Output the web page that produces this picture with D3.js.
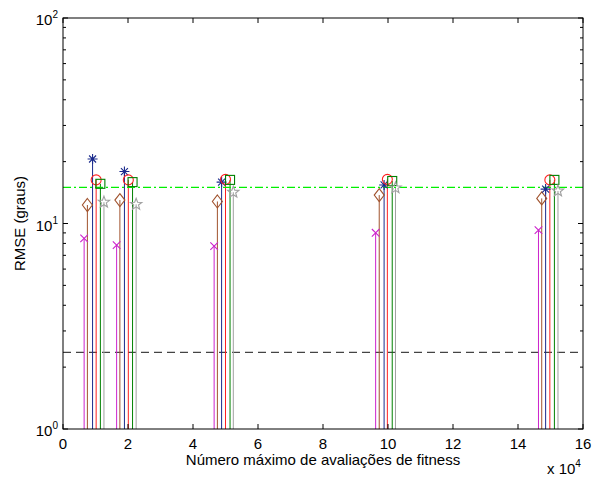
<!DOCTYPE html>
<html>
<head>
<meta charset="utf-8">
<script src="https://cdn.jsdelivr.net/npm/d3@7"></script>
<style>
  body { margin: 0; background: #fff; }
  svg text { font-family: "Liberation Sans", Arial, sans-serif; }
</style>
</head>
<body>
<div id="chart"></div>
<script>
const width = 599;
const height = 477;
const margin = { top: 18, right: 16, bottom: 48, left: 63 };

// x positions are in units of 10^4 evaluations
const xMagenta = [0.65, 1.65, 4.65, 9.62, 14.63];
const xBrown   = [0.75, 1.75, 4.75, 9.73, 14.73];
const xBlue    = [0.91, 1.89, 4.88, 9.88, 14.85];
const xRed     = [1.02, 2.01, 5.00, 9.98, 14.98];
const xGreen   = [1.15, 2.14, 5.14, 10.13, 15.12];
const xGray    = [1.26, 2.25, 5.24, 10.23, 15.23];

const yMagenta = [8.46, 7.85, 7.76, 9.01, 9.29];
const yBrown   = [12.3, 13.0, 12.8, 13.75, 13.25];
const yBlue    = [20.6, 17.9, 15.9, 15.4, 14.7];
const yRed     = [16.3, 16.3, 16.4, 16.4, 16.3];
const yGreen   = [15.6, 15.9, 16.3, 16.1, 16.3];
const yGray    = [12.7, 12.4, 14.2, 14.9, 14.4];

const refGreen = 15.0;
const refBlack = 2.36;

const xTicks = [0, 2, 4, 6, 8, 10, 12, 14, 16];
const yMajor = [1, 10, 100];
const yLabels = ['0', '1', '2'];

const series = [
  { xs: xMagenta, ys: yMagenta, color: '#cc22cc', marker: 'x' },
  { xs: xBrown,   ys: yBrown,   color: '#a0522d', marker: 'diamond' },
  { xs: xBlue,    ys: yBlue,    color: '#1a2a8c', marker: 'asterisk' },
  { xs: xRed,     ys: yRed,     color: '#ff2020', marker: 'circle' },
  { xs: xGreen,   ys: yGreen,   color: '#008000', marker: 'square' },
  { xs: xGray,    ys: yGray,    color: '#a0a0a0', marker: 'star' }
];

const svg = d3.select('#chart').append('svg')
  .attr('width', width).attr('height', height);

const iw = width - margin.left - margin.right;
const ih = height - margin.top - margin.bottom;

const x = d3.scaleLinear().domain([0, 16]).range([0, iw]);
const y = d3.scaleLog().domain([1, 100]).range([ih, 0]);

const g = svg.append('g').attr('transform', `translate(${margin.left},${margin.top})`);

// reference lines
g.append('line')
  .attr('x1', 0).attr('x2', iw)
  .attr('y1', y(refBlack)).attr('y2', y(refBlack))
  .attr('stroke', '#444').attr('stroke-width', 1.2)
  .attr('stroke-dasharray', '8,5');

// stems
series.forEach(s => {
  s.xs.forEach((xv, i) => {
    g.append('line')
      .attr('x1', x(xv)).attr('x2', x(xv))
      .attr('y1', y(1)).attr('y2', y(s.ys[i]))
      .attr('stroke', s.color).attr('stroke-width', 1);
  });
});

g.append('line')
  .attr('x1', 0).attr('x2', iw)
  .attr('y1', y(refGreen)).attr('y2', y(refGreen))
  .attr('stroke', '#00f000').attr('stroke-width', 1.2)
  .attr('stroke-dasharray', '8,3,2,3');

// markers
function drawMarker(sel, type, color) {
  const st = { stroke: color, fill: 'none', 'stroke-width': 1.1 };
  const add = (tag) => { const e = sel.append(tag); Object.entries(st).forEach(([k, v]) => e.attr(k, v)); return e; };
  if (type === 'circle') {
    add('circle').attr('r', 5);
  } else if (type === 'square') {
    add('rect').attr('x', -4.5).attr('y', -4.5).attr('width', 9).attr('height', 9);
  } else if (type === 'diamond') {
    add('path').attr('d', 'M0,-6.5L5,0L0,6.5L-5,0Z');
  } else if (type === 'x') {
    add('path').attr('d', 'M-3.8,-3.8L3.8,3.8M-3.8,3.8L3.8,-3.8');
  } else if (type === 'asterisk') {
    add('path').attr('d', 'M0,-5V5M-5,0H5M-3.5,-3.5L3.5,3.5M-3.5,3.5L3.5,-3.5');
  } else if (type === 'star') {
    const pts = d3.range(10).map(k => {
      const r = k % 2 === 0 ? 6 : 2.5;
      const a = -Math.PI / 2 + k * Math.PI / 5;
      return [r * Math.cos(a), r * Math.sin(a)];
    });
    add('path').attr('d', 'M' + pts.map(p => p.join(',')).join('L') + 'Z');
  }
}

series.forEach(s => {
  s.xs.forEach((xv, i) => {
    const m = g.append('g').attr('transform', `translate(${x(xv)},${y(s.ys[i])})`);
    drawMarker(m, s.marker, s.color);
  });
});

// box
g.append('rect').attr('width', iw).attr('height', ih)
  .attr('fill', 'none').attr('stroke', '#000').attr('stroke-width', 1);

// x ticks (bottom and top, inward)
xTicks.forEach(t => {
  g.append('line').attr('x1', x(t)).attr('x2', x(t)).attr('y1', ih).attr('y2', ih - 5).attr('stroke', '#000');
  g.append('line').attr('x1', x(t)).attr('x2', x(t)).attr('y1', 0).attr('y2', 5).attr('stroke', '#000');
  g.append('text').attr('x', x(t)).attr('y', ih + 20)
    .attr('text-anchor', 'middle').attr('font-size', 15).text(t);
});

// y ticks (log major + minor, both sides)
const yMinor = [];
[1, 10].forEach(d => { for (let k = 2; k <= 9; k++) yMinor.push(d * k); });
yMajor.forEach(t => {
  g.append('line').attr('x1', 0).attr('x2', 5).attr('y1', y(t)).attr('y2', y(t)).attr('stroke', '#000');
  g.append('line').attr('x1', iw).attr('x2', iw - 5).attr('y1', y(t)).attr('y2', y(t)).attr('stroke', '#000');
});
yMinor.forEach(t => {
  g.append('line').attr('x1', 0).attr('x2', 3).attr('y1', y(t)).attr('y2', y(t)).attr('stroke', '#000');
  g.append('line').attr('x1', iw).attr('x2', iw - 3).attr('y1', y(t)).attr('y2', y(t)).attr('stroke', '#000');
});
yMajor.forEach((t, i) => {
  const tx = g.append('text').attr('x', -5).attr('y', y(t) + 7)
    .attr('text-anchor', 'end').attr('font-size', 15);
  tx.append('tspan').text('10');
  tx.append('tspan').attr('dy', -7).attr('font-size', 10).text(yLabels[i]);
});

// axis labels
svg.append('text')
  .attr('x', margin.left + iw / 2).attr('y', 465)
  .attr('text-anchor', 'middle').attr('font-size', 15)
  .text('Número máximo de avaliações de fitness');

svg.append('text')
  .attr('transform', `translate(25,${margin.top + ih / 2}) rotate(-90)`)
  .attr('text-anchor', 'middle').attr('font-size', 15)
  .text('RMSE (graus)');

const sc = svg.append('text').attr('x', 547).attr('y', 474).attr('font-size', 15);
sc.append('tspan').text('x 10');
sc.append('tspan').attr('dy', -7).attr('font-size', 10).text('4');
</script>
</body>
</html>
